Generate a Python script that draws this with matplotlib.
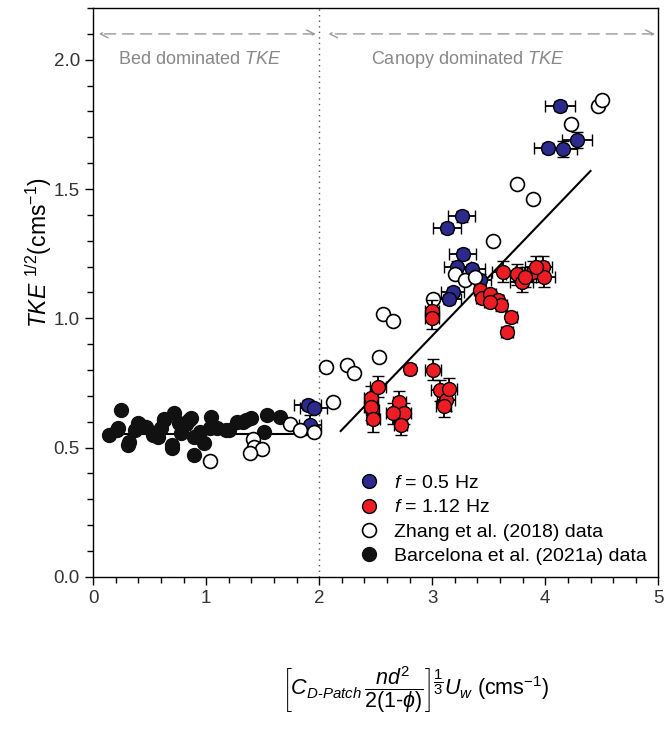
import matplotlib
matplotlib.use("Agg")
import matplotlib.pyplot as plt
from matplotlib.ticker import MultipleLocator
from matplotlib.lines import Line2D

plt.rcParams['font.family'] = ['Liberation Sans', 'DejaVu Sans']
plt.rcParams['mathtext.fontset'] = 'custom'
plt.rcParams['mathtext.rm'] = 'Liberation Sans'
plt.rcParams['mathtext.it'] = 'Liberation Sans:italic'
plt.rcParams['mathtext.bf'] = 'Liberation Sans:bold'

# Barcelona et al. (2021a) data
barc_x = [0.21, 0.25, 0.22, 0.31, 0.32, 0.37, 0.40, 0.41, 0.53, 0.57, 0.53, 0.63, 0.63, 0.72,
          0.70, 0.70, 0.76, 0.78, 0.85, 0.87, 0.89, 0.89, 0.98, 1.04, 1.03, 1.18, 1.20, 1.27,
          1.33, 1.35, 1.40, 1.51, 1.54, 1.65, 0.14, 0.47, 0.95, 1.10, 0.60, 0.82]
barc_y = [0.568, 0.645, 0.574, 0.51, 0.52, 0.568, 0.596, 0.59, 0.555, 0.54, 0.55, 0.606, 0.61, 0.633,
          0.51, 0.50, 0.594, 0.556, 0.605, 0.614, 0.54, 0.471, 0.517, 0.619, 0.575, 0.567, 0.567, 0.60,
          0.60, 0.606, 0.614, 0.56, 0.627, 0.617, 0.55, 0.58, 0.56, 0.575, 0.575, 0.59]

# Zhang et al. (2018) data
zh_x = [1.03, 1.41, 1.42, 1.49, 1.39, 1.74, 1.83, 1.95, 2.12, 2.06, 2.25, 2.31, 2.56, 2.65,
        2.53, 3.01, 3.20, 3.29, 3.38, 3.54, 3.75, 3.89, 4.23, 4.47, 4.50]
zh_y = [0.45, 0.535, 0.503, 0.493, 0.478, 0.593, 0.567, 0.561, 0.677, 0.81, 0.818, 0.789, 1.015, 0.99,
        0.85, 1.073, 1.17, 1.15, 1.16, 1.30, 1.52, 1.46, 1.75, 1.82, 1.845]

# f = 0.5 Hz
b_x = [1.90, 1.95, 1.92, 4.13, 4.28, 4.02, 4.16, 3.26, 3.13, 3.27, 3.22, 3.35, 3.42, 3.18, 3.15]
b_y = [0.664, 0.652, 0.587, 1.82, 1.69, 1.66, 1.655, 1.394, 1.35, 1.25, 1.20, 1.19, 1.15, 1.10, 1.076]
b_xerr = [0.12, 0.12, 0.10, 0.13, 0.13, 0.12, 0.12, 0.12, 0.12, 0.12, 0.12, 0.12, 0.10, 0.10, 0.10]
b_yerr = [0.02, 0.02, 0.04, 0.02, 0.03, 0.02, 0.03, 0.02, 0.02, 0.02, 0.02, 0.02, 0.02, 0.02, 0.02]

# f = 1.12 Hz
r_x = [3.00, 3.00, 2.80, 3.01, 3.07, 3.12, 3.15, 2.46, 2.47, 2.52, 2.46, 2.71, 2.75, 2.72, 2.65,
       3.70, 3.66, 3.63, 3.75, 3.79, 3.89, 3.98, 3.99, 3.92, 3.82, 3.42, 3.44, 3.51, 3.58, 3.61,
       3.51, 2.48, 3.10]
r_y = [1.03, 1.00, 0.803, 0.802, 0.722, 0.683, 0.728, 0.69, 0.645, 0.735, 0.657, 0.677, 0.632, 0.587, 0.632,
       1.005, 0.947, 1.18, 1.17, 1.14, 1.18, 1.20, 1.16, 1.20, 1.16, 1.11, 1.08, 1.095, 1.07, 1.05,
       1.063, 0.61, 0.66]
r_xerr = [0.06, 0.06, 0.04, 0.07, 0.08, 0.08, 0.07, 0.06, 0.06, 0.07, 0.06, 0.06, 0.06, 0.06, 0.06,
          0.05, 0.05, 0.10, 0.10, 0.10, 0.10, 0.08, 0.10, 0.10, 0.10, 0.05, 0.05, 0.05, 0.05, 0.05,
          0.05, 0.06, 0.07]
r_yerr = [0.04, 0.04, 0.02, 0.04, 0.04, 0.04, 0.04, 0.05, 0.05, 0.04, 0.05, 0.04, 0.04, 0.04, 0.04,
          0.02, 0.02, 0.04, 0.04, 0.04, 0.04, 0.04, 0.04, 0.04, 0.04, 0.02, 0.02, 0.02, 0.02, 0.02,
          0.02, 0.05, 0.04]

# fit lines
fit1_x = [0.10, 1.95]
fit1_y = [0.552, 0.552]
fit2_x = [2.19, 4.40]
fit2_y = [0.564, 1.57]

legend_labels = ['$f$ = 0.5 Hz', '$f$ = 1.12 Hz', 'Zhang et al. (2018) data',
                 'Barcelona et al. (2021a) data']

BLUE = '#2d2a8e'
RED = '#ee1d23'

fig = plt.figure(figsize=(6.65, 7.33), dpi=100)
ax = fig.add_axes([0.140, 0.213, 0.850, 0.776])

ms = 10
ax.plot(barc_x, barc_y, 'o', ms=ms, mfc='#111111', mec='#111111', zorder=3)
ax.plot(fit1_x, fit1_y, '-', color='black', lw=1.5, zorder=2)
ax.plot(fit2_x, fit2_y, '-', color='black', lw=1.5, zorder=2)

ax.errorbar(b_x, b_y, xerr=b_xerr, yerr=b_yerr, fmt='o', ms=ms, mfc=BLUE, mec='black', mew=1.0,
            ecolor='black', elinewidth=1.3, capsize=4.5, capthick=1.3, zorder=4)
ax.plot(zh_x, zh_y, 'o', ms=ms, mfc='white', mec='black', mew=1.2, zorder=5)
ax.errorbar(r_x, r_y, xerr=r_xerr, yerr=r_yerr, fmt='o', ms=ms, mfc=RED, mec='black', mew=1.0,
            ecolor='black', elinewidth=1.3, capsize=4.5, capthick=1.3, zorder=6)

ax.axvline(2.0, color='#555555', ls=(0, (1, 3)), lw=1.0, zorder=1)

# region annotations
gray = '#999999'
for x0, x1 in [(0.05, 1.97), (2.08, 4.97)]:
    ax.annotate('', xy=(x0, 2.10), xytext=(x1, 2.10),
                arrowprops=dict(arrowstyle='<->', color=gray, lw=1.0, ls=(0, (8, 5)),
                                shrinkA=0, shrinkB=0, mutation_scale=14))
ax.text(0.94, 2.0, r'Bed dominated $\it{TKE}$', color='#888888', fontsize=13,
        ha='center', va='center')
ax.text(3.31, 2.0, r'Canopy dominated $\it{TKE}$', color='#888888', fontsize=13,
        ha='center', va='center')

ax.set_xlim(0, 5)
ax.set_ylim(0, 2.2)
ax.xaxis.set_minor_locator(MultipleLocator(0.2))
ax.yaxis.set_minor_locator(MultipleLocator(0.1))
ax.set_xticks([0, 1, 2, 3, 4, 5])
ax.set_xticklabels(['0', '1', '2', '3', '4', '5'])
ax.set_yticks([0.0, 0.5, 1.0, 1.5, 2.0])
ax.set_yticklabels(['0.0', '0.5', '1.0', '1.5', '2.0'])
ax.tick_params(which='both', direction='out', top=False, right=False, labelsize=13.5,
               labelcolor='#333333')
ax.tick_params(which='major', length=6, width=1.0)
ax.tick_params(which='minor', length=4, width=1.0)
for s in ax.spines.values():
    s.set_linewidth(1.0)

fig.text(0.058, 0.656, r'$TKE$ $^{1/2}$(cms$^{-1}$)', fontsize=16.5, rotation=90,
         ha='center', va='center')
fig.text(0.625, 0.059,
         r'$\left[C_{D\text{-}Patch}\,\dfrac{nd^2}{2(1\text{-}\phi)}\right]^{\dfrac{1}{3}}U_w$ (cms$^{-1}$)',
         fontsize=15.5, ha='center', va='center')

leg_handles = [
    Line2D([], [], marker='o', ls='', ms=10, mfc=BLUE, mec='black'),
    Line2D([], [], marker='o', ls='', ms=10, mfc=RED, mec='black'),
    Line2D([], [], marker='o', ls='', ms=10, mfc='white', mec='black', mew=1.2),
    Line2D([], [], marker='o', ls='', ms=10, mfc='#111111', mec='#111111'),
]
ax.legend(leg_handles, legend_labels, loc='lower right', bbox_to_anchor=(1.0, 0.0), frameon=False,
          fontsize=14, handletextpad=0.5, labelspacing=0.35, borderaxespad=0.2,
          handlelength=1.6)

fig.savefig('out.png', dpi=100)
